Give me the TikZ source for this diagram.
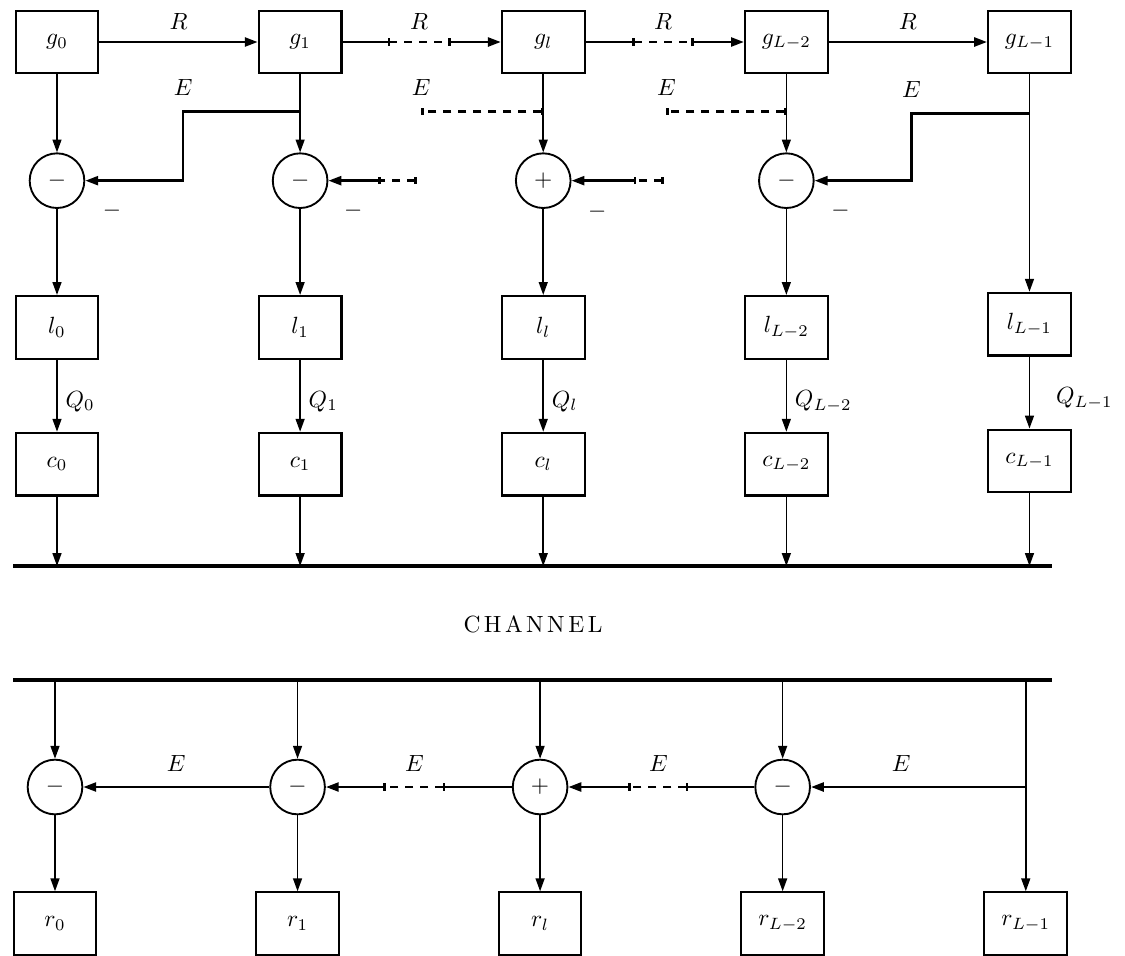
\documentclass[tikz,border=0pt]{standalone}
\usepackage{tikz}
\usetikzlibrary{arrows.meta,positioning}

\begin{document}
\begin{tikzpicture}[x=0.015cm, y=-0.015cm,
    blk/.style={rectangle, draw, line width=0.9pt, minimum width=1.24cm, minimum height=0.94cm, inner sep=1pt},
    adder/.style={circle, draw, line width=0.8pt, minimum size=0.82cm, inner sep=0pt},
    wire/.style={line width=0.7pt},
    arr/.style={wire, -{Triangle[length=5.5pt,width=3.8pt]}},
    link/.style={line width=1.1pt},
    linkarr/.style={link, -{Triangle[length=5.5pt,width=3.8pt]}},
    dashseg/.style={line width=1.1pt, dash pattern=on 3.4pt off 3pt, {Bar[width=3pt]}-{Bar[width=3pt]}},
    chline/.style={line width=1.3pt}]
      \useasboundingbox (0,0) rectangle (1125,955);

      % Generators
      \node[blk] (g0) at (57,42) {$g_0$};
      \node[blk, right=2.375cm of g0] (g1) {$g_1$};
      \node[blk, right=2.375cm of g1] (gl) {$g_l$};
      \node[blk, right=2.375cm of gl] (gLb) {$g_{L-2}$};
      \node[blk, right=2.375cm of gLb] (gLa) {$g_{L-1}$};

      % Adders (transmitter)
      \node[adder, below=1.17cm of g0] (s0) {$-$};
      \node[adder, below=1.17cm of g1] (s1) {$-$};
      \node[adder, below=1.17cm of gl] (s2) {$+$};
      \node[adder, below=1.17cm of gLb] (s3) {$-$};
      \node (m0) at ([shift={(55,30)}]s0) {$-$};
      \node (m1) at ([shift={(53,30)}]s1) {$-$};
      \node (m2) at ([shift={(54,31)}]s2) {$-$};
      \node (m3) at ([shift={(54,30)}]s3) {$-$};

      % Layers
      \node[blk, below=1.29cm of s0] (l0) {$l_0$};
      \node[blk, below=1.29cm of s1] (l1) {$l_1$};
      \node[blk, below=1.29cm of s2] (l2) {$l_l$};
      \node[blk, below=1.29cm of s3] (l3) {$l_{L-2}$};
      \node[blk, below=3.26cm of gLa] (l4) {$l_{L-1}$};

      % Coders
      \node[blk, below=1.08cm of l0] (c0) {$c_0$};
      \node[blk, below=1.08cm of l1] (c1) {$c_1$};
      \node[blk, below=1.08cm of l2] (c2) {$c_l$};
      \node[blk, below=1.08cm of l3] (c3) {$c_{L-2}$};
      \node[blk, below=1.08cm of l4] (c4) {$c_{L-1}$};

      % Channel
      \coordinate (chA) at (13,566);
      \coordinate (chB) at (1052,566);
      \coordinate (chC) at (13,680);
      \coordinate (chD) at (1052,680);
      \draw[chline] (chA) -- (chB);
      \draw[chline] (chC) -- (chD);
      \node (chlabel) at (533,624) {C\kern1.5pt H\kern1.5pt A\kern1.5pt N\kern1.5pt N\kern1.5pt E\kern1.5pt L};

      % Adders (receiver)
      \node[adder] (b0) at (55,787) {$-$};
      \node[adder, right=2.79cm of b0] (b1) {$-$};
      \node[adder, right=2.79cm of b1] (b2) {$+$};
      \node[adder, right=2.79cm of b2] (b3) {$-$};

      % Reconstructions
      \node[blk, below=1.14cm of b0] (r0) {$r_0$};
      \node[blk, below=1.14cm of b1] (r1) {$r_1$};
      \node[blk, below=1.14cm of b2] (r2) {$r_l$};
      \node[blk, below=1.14cm of b3] (r3) {$r_{L-2}$};
      \node[blk, right=2.375cm of r3] (r4) {$r_{L-1}$};

      % R chain
      \coordinate[right=0.675cm of g1.east] (ra);
      \coordinate[left=0.75cm of gl.west] (rb);
      \coordinate[right=0.7cm of gl.east] (rc);
      \coordinate[left=0.75cm of gLb.west] (rd);
      \draw[linkarr] (g0) -- node[above=0.05cm] {$R$} (g1);
      \draw[link] (g1) -- (ra);
      \draw[dashseg] (ra) -- node[above=0.05cm] {$R$} (rb);
      \draw[linkarr] (rb) -- (gl);
      \draw[link] (gl) -- (rc);
      \draw[dashseg] (rc) -- node[above=0.05cm] {$R$} (rd);
      \draw[linkarr] (rd) -- (gLb);
      \draw[linkarr] (gLb) -- node[above=0.05cm] {$R$} (gLa);

      % E feedback (transmitter)
      \coordinate[below=0.555cm of g1.south] (e1);
      \coordinate[below=0.555cm of gl.south] (e2);
      \coordinate[below=0.555cm of gLb.south] (e3);
      \coordinate[below=0.585cm of gLa.south] (e4);
      \draw[linkarr] (e1) -- node[pos=1, above=0.1cm] {$E$} ++(-117,0) |- (s0.east);
      \draw[dashseg] (e2) -- node[pos=1, above=0.1cm] {$E$} ++(-122,0);
      \draw[dashseg] (e3) -- node[pos=1, above=0.1cm] {$E$} ++(-120,0);
      \draw[linkarr] (e4) -- node[pos=1, above=0.1cm] {$E$} ++(-118,0) |- (s3.east);

      % Adder inputs from the right
      \coordinate[right=0.75cm of s1.east] (i1b);
      \coordinate[right=1.33cm of s1.east] (i1a);
      \coordinate[right=0.93cm of s2.east] (i2b);
      \coordinate[right=1.38cm of s2.east] (i2a);
      \draw[dashseg] (i1a) -- (i1b);
      \draw[linkarr] (i1b) -- (s1.east);
      \draw[dashseg] (i2a) -- (i2b);
      \draw[linkarr] (i2b) -- (s2.east);

      % Columns (transmitter)
      \draw[arr] (g0) -- (s0);
      \draw[arr] (g1) -- (s1);
      \draw[arr] (gl) -- (s2);
      \draw[arr] (gLb) -- (s3);
      \draw[arr] (gLa) -- (l4);
      \draw[arr] (s0) -- (l0);
      \draw[arr] (s1) -- (l1);
      \draw[arr] (s2) -- (l2);
      \draw[arr] (s3) -- (l3);
      \draw[arr] (l0) -- node[right, pos=0.58] {$Q_0$} (c0);
      \draw[arr] (l1) -- node[right, pos=0.58] {$Q_1$} (c1);
      \draw[arr] (l2) -- node[right, pos=0.58] {$Q_l$} (c2);
      \draw[arr] (l3) -- node[right, pos=0.58] {$Q_{L-2}$} (c3);
      \draw[arr] (l4) -- node[right=0.27cm, pos=0.58] {$Q_{L-1}$} (c4);
      \draw[arr] (c0) -- (c0 |- chA);
      \draw[arr] (c1) -- (c1 |- chA);
      \draw[arr] (c2) -- (c2 |- chA);
      \draw[arr] (c3) -- (c3 |- chA);
      \draw[arr] (c4) -- (c4 |- chA);

      % Columns (receiver)
      \draw[arr] (b0 |- chC) -- (b0);
      \draw[arr] (b1 |- chC) -- (b1);
      \draw[arr] (b2 |- chC) -- (b2);
      \draw[arr] (b3 |- chC) -- (b3);
      \draw[arr] (r4 |- chC) -- (r4);
      \draw[arr] (b0) -- (r0);
      \draw[arr] (b1) -- (r1);
      \draw[arr] (b2) -- (r2);
      \draw[arr] (b3) -- (r3);

      % E chain (receiver)
      \coordinate (f4) at (r4 |- b3);
      \coordinate[left=0.99cm of b3.west] (ja);
      \coordinate[right=0.9cm of b2.east] (jb);
      \coordinate[left=1.0cm of b2.west] (jc);
      \coordinate[right=0.865cm of b1.east] (jd);
      \draw[linkarr] (f4) -- node[above=0.1cm, pos=0.58] {$E$} (b3);
      \draw[link] (b3) -- (ja);
      \draw[dashseg] (ja) -- node[above=0.1cm] {$E$} (jb);
      \draw[linkarr] (jb) -- (b2);
      \draw[link] (b2) -- (jc);
      \draw[dashseg] (jc) -- node[above=0.1cm] {$E$} (jd);
      \draw[linkarr] (jd) -- (b1);
      \draw[linkarr] (b1) -- node[above=0.1cm] {$E$} (b0);
    \end{tikzpicture}
\end{document}
